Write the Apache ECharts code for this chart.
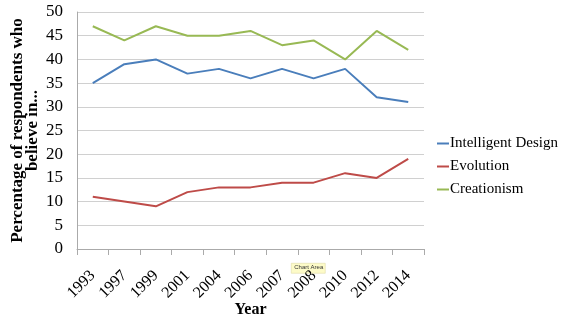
<!DOCTYPE html>
<html><head><meta charset="utf-8">
<script src="https://cdn.jsdelivr.net/npm/echarts@6/dist/echarts.min.js"></script>
<style>html,body{margin:0;padding:0;background:#fff}#c{width:570px;height:322px}</style>
</head><body><div id="c"></div>
<script>
const years = ['1993','1997','1999','2001','2004','2006','2007','2008','2010','2012','2014'];
const intelligentDesign = [35,39,40,37,38,36,38,36,38,32,31];
const evolution = [11,10,9,12,13,13,14,14,16,15,19];
const creationism = [47,44,47,45,45,46,43,44,40,46,42];
const yTicks = {min:0, max:50, interval:5};
const font = 'Liberation Serif';
const chart = echarts.init(document.getElementById('c'));
const mk = (name, data, color) => ({name, type:'line', data, symbol:'none', lineStyle:{color, width:2}, itemStyle:{color}});
chart.setOption({
  animation:false,
  grid:{left:77, right:146, top:12, bottom:73, outerBoundsMode:'none', containLabel:false},
  legend:{orient:'vertical', left:432, top:131, itemWidth:12, itemHeight:2, itemGap:8,
    icon:'rect', textStyle:{fontFamily:font, fontSize:15, color:'#000', padding:[0,0,0,-4]},
    data:['Intelligent Design','Evolution','Creationism']},
  xAxis:{type:'category', data:years, boundaryGap:true,
    name:'Year', nameLocation:'middle', nameGap:53, nameMoveOverlap:false,
    nameTextStyle:{fontFamily:font, fontWeight:'bold', fontSize:16, color:'#000'},
    axisLine:{lineStyle:{color:'#aaa'}}, axisTick:{show:true, length:6, lineStyle:{color:'#aaa'}},
    axisLabel:{rotate:45, fontFamily:font, fontSize:16, color:'#000', margin:24, interval:0}},
  yAxis:{type:'value', min:yTicks.min, max:yTicks.max, interval:yTicks.interval,
    name:'Percentage of respondents who\nbelieve in...', nameLocation:'middle', nameGap:37, nameMoveOverlap:false,
    nameTextStyle:{fontFamily:font, fontWeight:'bold', fontSize:17, color:'#000', lineHeight:15},
    axisLine:{show:true, lineStyle:{color:'#aaa'}}, axisTick:{show:false},
    axisLabel:{fontFamily:font, fontSize:17, color:'#000', margin:14},
    splitLine:{lineStyle:{color:'#d0d0d0'}}},
  graphic:[{type:'group', left:291, top:263, children:[
    {type:'rect', shape:{x:0,y:0,width:34,height:10}, style:{fill:'#fdfbc8', stroke:'#d8d49a', lineWidth:0.5}},
    {type:'text', left:3, top:1.5, style:{text:'Chart Area', font:'6px Liberation Sans', fill:'#333'}}
  ]}],
  series:[mk('Intelligent Design', intelligentDesign, '#4a7ebb'), mk('Evolution', evolution, '#be4b48'), mk('Creationism', creationism, '#98b954')]
});
</script></body></html>
